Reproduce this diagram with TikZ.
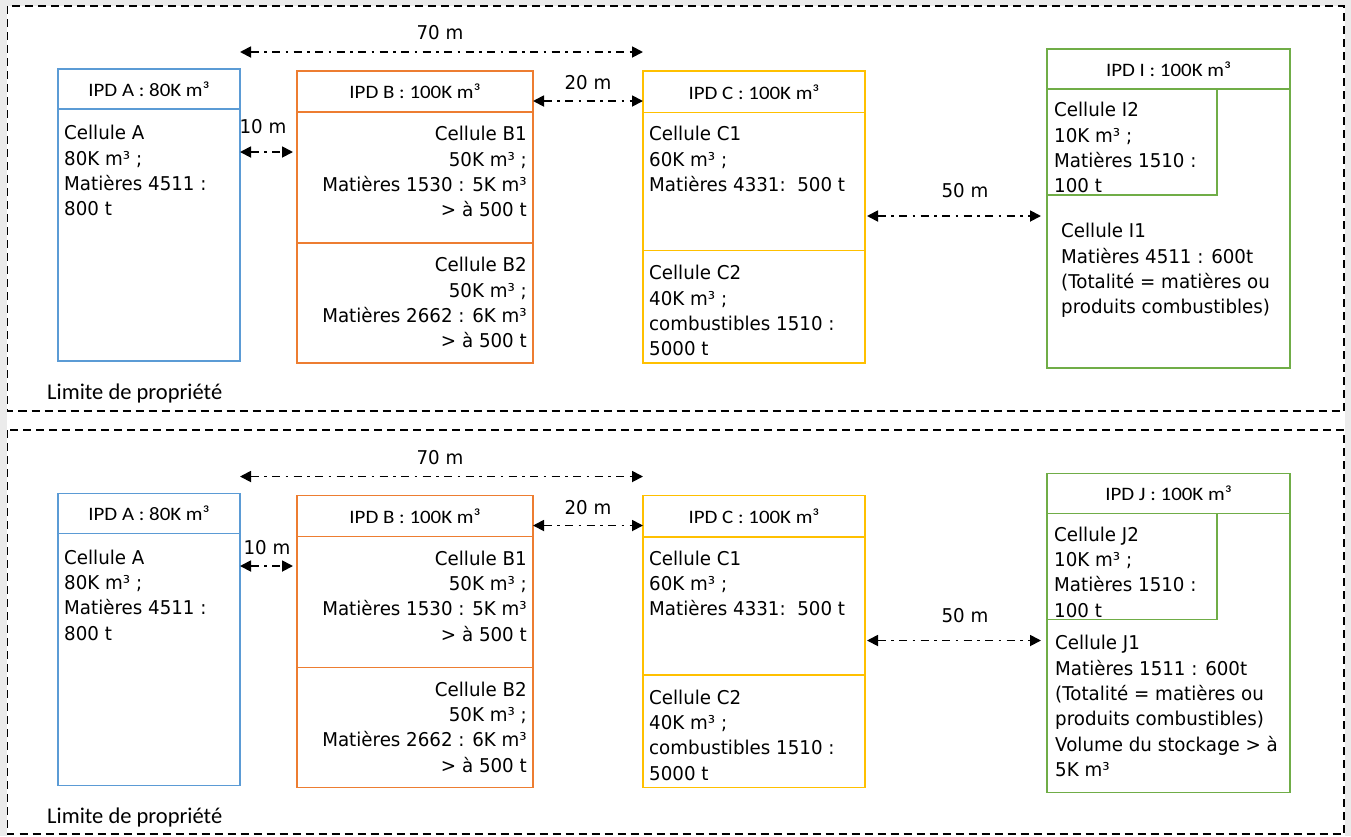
\documentclass[tikz,border=0pt]{standalone}
\usepackage{fontspec}
\setmainfont{DejaVu Sans}[FakeStretch=0.96]
\newfontfamily\hdrfont{Carlito}[FakeStretch=1.1]
\newfontfamily\limfont{Carlito}
\usetikzlibrary{arrows.meta}
\definecolor{cblue}{HTML}{5B9BD5}
\definecolor{corange}{HTML}{ED7D31}
\definecolor{cgold}{HTML}{FFC000}
\definecolor{cgreen}{HTML}{70AD47}
\definecolor{bggray}{HTML}{EBEBEB}
\newcommand\cellbox[6]{\node[cell,draw=#2,minimum width=#5pt-#3pt,minimum height=#6pt-#4pt] (#1) at (#3,#4) {};}
\begin{document}
\begin{tikzpicture}[x=1pt,y=-1pt,
  cell/.style={line width=1.8pt, inner sep=0pt, outer sep=0pt, anchor=north west},
  hdr/.style={font=\hdrfont\fontsize{19}{22}\selectfont, inner sep=0pt},
  body/.style={font=\fontsize{19}{25.4}\selectfont, inner sep=0pt, align=left, anchor=north west},
  bodyr/.style={font=\fontsize{19}{25.4}\selectfont, inner sep=0pt, align=right, anchor=north east},
  lbl/.style={font=\fontsize{19}{23}\selectfont, inner sep=0pt},
  dim/.style={line width=1.8pt, dash pattern=on 8pt off 5.5pt on 2.5pt off 5.5pt, {Triangle[length=11pt,width=11pt]}-{Triangle[length=11pt,width=11pt]}},
  panel/.style={line width=1.8pt, dash pattern=on 8pt off 5pt},
  limit/.style={font=\limfont\fontsize{22.5}{26}\selectfont, inner sep=0pt, anchor=west}
]
\useasboundingbox (0,0) rectangle (1351,836);
\fill[bggray] (0,0) rectangle (1351,836);
\fill[white] (7,6) rectangle (1345,836);
\draw[panel] (7.5,6) rectangle (1344,411);
\draw[panel] (7.5,430) rectangle (1344,834);

% ---------------- top panel ----------------
\cellbox{hA}{cblue}{58}{69}{240}{109}
\cellbox{bA}{cblue}{58}{109}{240}{361}
\cellbox{hB}{corange}{297}{71}{533}{112}
\cellbox{bB1}{corange}{297}{112}{533}{243}
\cellbox{bB2}{corange}{297}{243}{533}{363}
\cellbox{hC}{cgold}{643}{71}{865}{112.5}
\cellbox{bC1}{cgold}{643}{112.5}{865}{250.5}
\cellbox{bC2}{cgold}{643}{250.5}{865}{363}
\cellbox{hI}{cgreen}{1047}{49}{1290}{89}
\cellbox{bI}{cgreen}{1047}{89}{1290}{368}
\cellbox{bI2}{cgreen}{1047}{89}{1217}{195}

\node[hdr] (tA) at (hA.center) {IPD A : 80K m³};
\node[hdr] (tB) at (hB.center) {IPD B : 100K m³};
\node[hdr] (tC) at (hC.center) {IPD C : 100K m³};
\node[hdr] (tI) at (hI.center) {IPD I : 100K m³};

\node[body] (xA) at (64,125) {Cellule A\\80K m³ ;\\Matières 4511 :\\800 t};
\node[bodyr] (xB1) at (527,126) {Cellule B1\\50K m³ ;\\Matières 1530 : 5K m³\\> à 500 t};
\node[bodyr] (xB2) at (527,257) {Cellule B2\\50K m³ ;\\Matières 2662 : 6K m³\\> à 500 t};
\node[body] (xC1) at (649,126) {Cellule C1\\60K m³ ;\\Matières 4331:\ \ 500 t};
\node[body] (xC2) at (649,265) {Cellule C2\\40K m³ ;\\combustibles 1510 :\\5000 t};
\node[body] (xI2) at (1054,102) {Cellule I2\\10K m³ ;\\Matières 1510 :\\100 t};
\node[body] (xI1) at (1061,223) {Cellule I1\\Matières 4511 : 600t\\(Totalité = matières ou\\produits combustibles)};

\coordinate (y70) at (0,52);
\draw[dim] (hA.east |- y70) -- (hC.west |- y70);
\node[lbl] (l70) at (440,33) {70 m};
\coordinate (y10) at (0,152);
\draw[dim, shorten >=4pt] (bA.east |- y10) -- (bB1.west |- y10);
\node[lbl] (l10) at (263,127) {10 m};
\coordinate (y20) at (0,101);
\draw[dim] (hB.east |- y20) -- (hC.west |- y20);
\node[lbl] (l20) at (588,83) {20 m};
\coordinate (y50) at (0,216);
\draw[dim, shorten <=2pt, shorten >=6pt] (bC1.east |- y50) -- (bI.west |- y50);
\node[lbl] (l50) at (965,191) {50 m};
\node[limit] (lim) at (47,393) {Limite de propriété};

% ---------------- bottom panel ----------------
\begin{scope}[shift={(0,424.5)}]
\cellbox{hAb}{cblue}{58}{69}{240}{109}
\cellbox{bAb}{cblue}{58}{109}{240}{361}
\cellbox{hBb}{corange}{297}{71}{533}{112}
\cellbox{bB1b}{corange}{297}{112}{533}{243}
\cellbox{bB2b}{corange}{297}{243}{533}{363}
\cellbox{hCb}{cgold}{643}{71}{865}{112.5}
\cellbox{bC1b}{cgold}{643}{112.5}{865}{250.5}
\cellbox{bC2b}{cgold}{643}{250.5}{865}{363}
\cellbox{hJ}{cgreen}{1047}{49}{1290}{89}
\cellbox{bJ}{cgreen}{1047}{89}{1290}{368}
\cellbox{bJ2}{cgreen}{1047}{89}{1217}{195}

\node[hdr] (tAb) at (hAb.center) {IPD A : 80K m³};
\node[hdr] (tBb) at (hBb.center) {IPD B : 100K m³};
\node[hdr] (tCb) at (hCb.center) {IPD C : 100K m³};
\node[hdr] (tJ) at (hJ.center) {IPD J : 100K m³};

\node[body] (xAb) at (64,125) {Cellule A\\80K m³ ;\\Matières 4511 :\\800 t};
\node[bodyr] (xB1b) at (527,126) {Cellule B1\\50K m³ ;\\Matières 1530 : 5K m³\\> à 500 t};
\node[bodyr] (xB2b) at (527,257) {Cellule B2\\50K m³ ;\\Matières 2662 : 6K m³\\> à 500 t};
\node[body] (xC1b) at (649,126) {Cellule C1\\60K m³ ;\\Matières 4331:\ \ 500 t};
\node[body] (xC2b) at (649,265) {Cellule C2\\40K m³ ;\\combustibles 1510 :\\5000 t};
\node[body] (xJ2) at (1054,102) {Cellule J2\\10K m³ ;\\Matières 1510 :\\100 t};
\node[body] (xJ1) at (1055,210.5) {Cellule J1\\Matières 1511 : 600t\\(Totalité = matières ou\\produits combustibles)\\Volume du stockage > à\\5K m³};

\coordinate (y70b) at (0,52);
\draw[dim] (hAb.east |- y70b) -- (hCb.west |- y70b);
\node[lbl] (l70b) at (440,33) {70 m};
\coordinate (y10b) at (0,141.5);
\draw[dim, shorten >=4pt] (bAb.east |- y10b) -- (bB1b.west |- y10b);
\node[lbl] (l10b) at (267,123.5) {10 m};
\coordinate (y20b) at (0,101);
\draw[dim] (hBb.east |- y20b) -- (hCb.west |- y20b);
\node[lbl] (l20b) at (588,83) {20 m};
\coordinate (y50b) at (0,216);
\draw[dim, shorten <=2pt, shorten >=6pt] (bC1b.east |- y50b) -- (bJ.west |- y50b);
\node[lbl] (l50b) at (965,191) {50 m};
\node[limit] (limb) at (47,393) {Limite de propriété};
\end{scope}
\end{tikzpicture}
\end{document}
